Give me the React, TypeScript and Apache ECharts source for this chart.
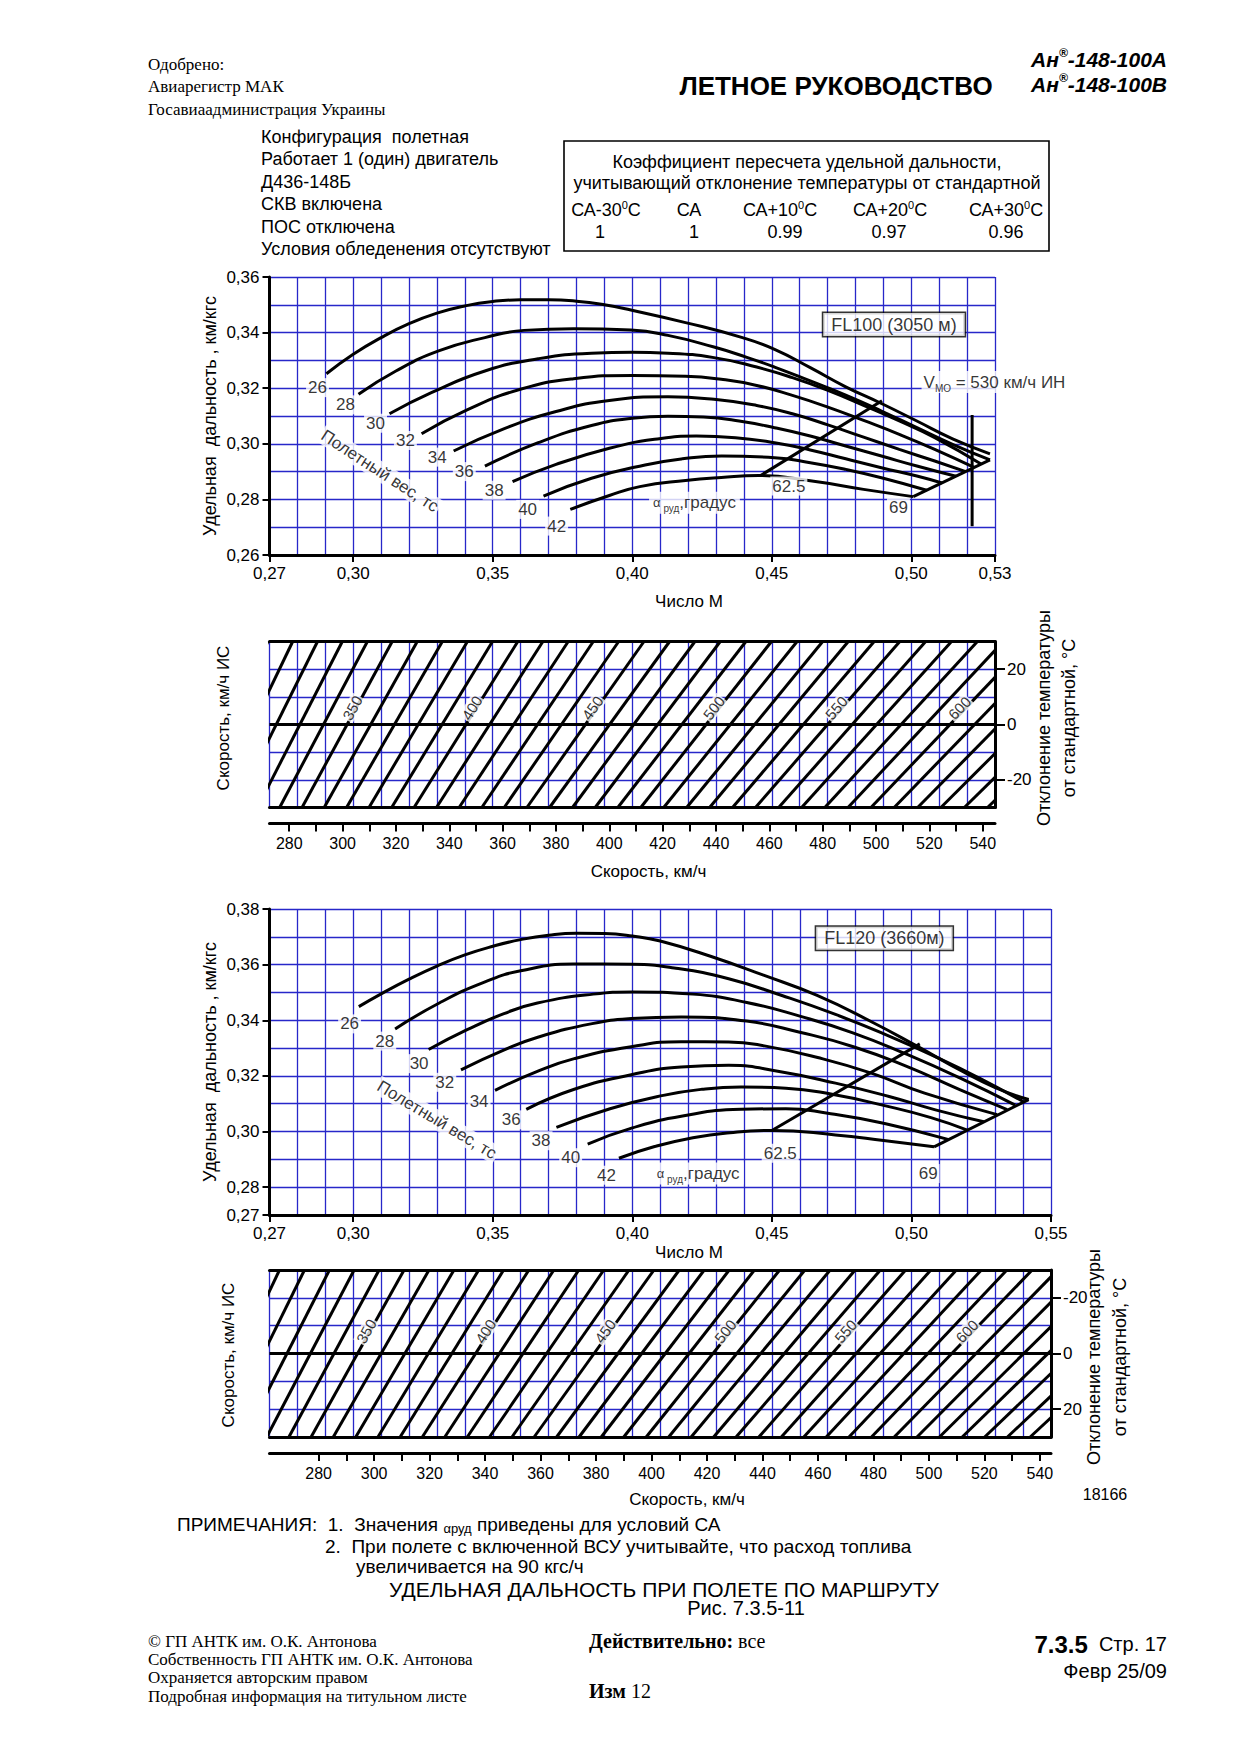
import React, { useEffect, useRef } from 'react';
import * as echarts from 'echarts';

const FONT = '"Liberation Sans", Arial, Helvetica, sans-serif';
const SERIF = '"Liberation Serif", "Times New Roman", serif';
const BLUE = '#2727c9';
const BLACK = '#000';

// ---------------- FL100 (3050 м): specific range vs Mach, by flight weight (t) ----------------
const weightNames = ['26', '28', '30', '32', '34', '36', '38', '40', '42'];

const fl100W26 = [[0.2904, 0.3252], [0.300, 0.3322], [0.310, 0.3382], [0.320, 0.3432], [0.330, 0.347], [0.340, 0.3496], [0.350, 0.3512], [0.360, 0.3518], [0.370, 0.3518], [0.380, 0.3513], [0.390, 0.350], [0.3995, 0.3481], [0.4191, 0.3436], [0.4395, 0.3382], [0.451, 0.334], [0.4638, 0.3274], [0.4765, 0.3205], [0.4893, 0.3145], [0.502, 0.3082], [0.5148, 0.3018], [0.5282, 0.2964]];
const fl100W28 = [[0.3019, 0.3178], [0.3153, 0.3262], [0.3306, 0.3334], [0.3472, 0.3382], [0.3612, 0.3408], [0.379, 0.3414], [0.3995, 0.3409], [0.4128, 0.3390], [0.4293, 0.3348], [0.4408, 0.3312], [0.451, 0.3276], [0.4638, 0.3226], [0.4765, 0.3175], [0.4893, 0.3118], [0.502, 0.3058], [0.5148, 0.2998], [0.5282, 0.2942]];
const fl100W30 = [[0.313, 0.3108], [0.328, 0.3184], [0.3472, 0.3262], [0.3663, 0.3306], [0.3854, 0.3326], [0.400, 0.3329], [0.4128, 0.3326], [0.4293, 0.331], [0.4446, 0.3276], [0.4574, 0.3238], [0.4701, 0.3192], [0.4829, 0.3138], [0.4957, 0.3082], [0.5084, 0.3022], [0.525, 0.2927]];
const fl100W32 = [[0.3245, 0.3036], [0.3408, 0.3122], [0.3599, 0.3196], [0.379, 0.3234], [0.400, 0.3246], [0.4191, 0.3243], [0.4319, 0.3232], [0.4446, 0.321], [0.4574, 0.3174], [0.4701, 0.3132], [0.4829, 0.3084], [0.4957, 0.3034], [0.5084, 0.298], [0.5225, 0.2915]];
const fl100W34 = [[0.336, 0.2974], [0.3535, 0.3052], [0.3727, 0.3116], [0.3918, 0.3156], [0.4128, 0.3169], [0.4293, 0.316], [0.4446, 0.3138], [0.4574, 0.3108], [0.4701, 0.3068], [0.4829, 0.3024], [0.4957, 0.298], [0.5084, 0.2938], [0.5195, 0.290]];
const fl100W36 = [[0.3472, 0.292], [0.3663, 0.3004], [0.3854, 0.3066], [0.400, 0.3092], [0.4128, 0.3099], [0.4255, 0.3096], [0.4383, 0.3082], [0.451, 0.3058], [0.4638, 0.3028], [0.4765, 0.2992], [0.4893, 0.2956], [0.502, 0.292], [0.516, 0.2883]];
const fl100W38 = [[0.3571, 0.2864], [0.3727, 0.2926], [0.3918, 0.2984], [0.4080, 0.3016], [0.423, 0.3028], [0.437, 0.3022], [0.451, 0.3004], [0.4638, 0.2978], [0.4765, 0.2946], [0.4893, 0.2914], [0.502, 0.2884], [0.511, 0.2859]];
const fl100W40 = [[0.3682, 0.2812], [0.3854, 0.2876], [0.4046, 0.2924], [0.418, 0.2946], [0.432, 0.2956], [0.451, 0.2950], [0.4638, 0.2932], [0.4765, 0.2908], [0.4893, 0.2878], [0.5055, 0.2833]];
const fl100W42 = [[0.3778, 0.2764], [0.3918, 0.2814], [0.4027, 0.2846], [0.4191, 0.2868], [0.4319, 0.2879], [0.4453, 0.2886], [0.4644, 0.2866], [0.4829, 0.2836], [0.5007, 0.281]];
const fl100Throttle625 = [[0.446, 0.2886], [0.4895, 0.3155]];
const fl100Throttle69 = [[0.5007, 0.281], [0.5282, 0.2942]];
const fl100Vmo = [[0.5218, 0.2703], [0.5218, 0.3104]];
const fl100WeightLabelM = [0.2872, 0.2972, 0.308, 0.3187, 0.3301, 0.3398, 0.3505, 0.3625, 0.3729];
const fl100WeightLabelSR = [0.3202, 0.314, 0.3074, 0.3012, 0.2952, 0.290, 0.2833, 0.2764, 0.2704];

// ---------------- FL120 (3660 м) ----------------
const fl120W26 = [[0.302, 0.3449], [0.310, 0.3495], [0.320, 0.3548], [0.330, 0.3595], [0.340, 0.3635], [0.350, 0.3666], [0.360, 0.369], [0.370, 0.3706], [0.380, 0.3713], [0.390, 0.3712], [0.400, 0.3703], [0.410, 0.3685], [0.428, 0.363], [0.447, 0.3562], [0.466, 0.349], [0.486, 0.3393], [0.502, 0.3307], [0.518, 0.3218], [0.530, 0.3158], [0.542, 0.3115]];
const fl120W28 = [[0.315, 0.3369], [0.331, 0.3463], [0.347, 0.3537], [0.360, 0.3578], [0.379, 0.3602], [0.400, 0.3601], [0.415, 0.3588], [0.4345, 0.3549], [0.4536, 0.3489], [0.4728, 0.3421], [0.492, 0.3343], [0.511, 0.3258], [0.524, 0.3194], [0.540, 0.3108]];
const fl120W30 = [[0.327, 0.3295], [0.341, 0.3367], [0.354, 0.3424], [0.366, 0.3462], [0.386, 0.3494], [0.400, 0.3502], [0.4217, 0.3494], [0.441, 0.3464], [0.460, 0.3415], [0.479, 0.3355], [0.498, 0.3279], [0.5175, 0.3192], [0.5372, 0.3095]];
const fl120W32 = [[0.3386, 0.3222], [0.3537, 0.3292], [0.3664, 0.3340], [0.3856, 0.3388], [0.3996, 0.3406], [0.4175, 0.3412], [0.4409, 0.3397], [0.460, 0.3357], [0.4792, 0.3305], [0.4983, 0.3234], [0.5175, 0.315], [0.5343, 0.3079]];
const fl120W34 = [[0.3508, 0.3148], [0.3664, 0.3218], [0.3792, 0.3262], [0.3996, 0.3305], [0.4175, 0.3323], [0.4345, 0.3322], [0.4473, 0.3308], [0.4664, 0.3266], [0.4856, 0.3210], [0.5047, 0.3138], [0.5307, 0.3061]];
const fl120W36 = [[0.362, 0.308], [0.3792, 0.3152], [0.3996, 0.3204], [0.4175, 0.3232], [0.4345, 0.3238], [0.4536, 0.3214], [0.4728, 0.3174], [0.492, 0.3126], [0.5086, 0.3078], [0.5259, 0.3035]];
const fl120W38 = [[0.3728, 0.3015], [0.392, 0.3082], [0.4111, 0.3130], [0.425, 0.3152], [0.439, 0.3160], [0.455, 0.3156], [0.472, 0.3133], [0.490, 0.3094], [0.507, 0.305], [0.520, 0.3005]];
const fl120W40 = [[0.384, 0.2955], [0.400, 0.3013], [0.418, 0.3056], [0.439, 0.3080], [0.455, 0.3082], [0.470, 0.3066], [0.490, 0.3030], [0.5134, 0.2971]];
const fl120W42 = [[0.3952, 0.2904], [0.408, 0.2946], [0.4217, 0.2978], [0.4350, 0.2996], [0.450, 0.3004], [0.4728, 0.2988], [0.490, 0.2968], [0.5081, 0.2945]];
const fl120Throttle625 = [[0.450, 0.3004], [0.503, 0.3315]];
const fl120Throttle69 = [[0.5081, 0.2945], [0.542, 0.3115]];
const fl120WeightLabelM = [0.2987, 0.3113, 0.3236, 0.3328, 0.3451, 0.3566, 0.3673, 0.3779, 0.3907];
const fl120WeightLabelSR = [0.3387, 0.3325, 0.3244, 0.3177, 0.3108, 0.3042, 0.2967, 0.2906, 0.2843];

// ---------------- axis tick values ----------------
const machTicksFL100 = [0.27, 0.30, 0.35, 0.40, 0.45, 0.50, 0.53];
const machTicksFL120 = [0.27, 0.30, 0.35, 0.40, 0.45, 0.50, 0.55];
const srTicksFL120 = [0.27, 0.28, 0.30, 0.32, 0.34, 0.36, 0.38];
const speedTicks = [280, 290, 300, 310, 320, 330, 340, 350, 360, 370, 380, 390, 400, 410, 420, 430, 440, 450, 460, 470, 480, 490, 500, 510, 520, 530, 540];
const speedLabels = [280, 300, 320, 340, 360, 380, 400, 420, 440, 460, 480, 500, 520, 540];
const tempTicks = [-20, 0, 20];

// ---------------- speed nomograms: isolines, crossing speed at the two edges ----------------
const nomo1Tas = [300, 310, 320, 330, 340, 350, 360, 370, 380, 390, 400, 410, 420, 430, 440, 450, 460, 470, 480, 490, 500, 510, 520, 530, 540, 550, 560, 570, 580, 590, 600, 610, 620, 630, 640, 650, 660];
const nomo1XBottom = [243.1, 251.4, 259.7, 268.1, 276.4, 284.8, 293.1, 301.5, 309.9, 318.4, 326.8, 335.2, 343.7, 352.2, 360.6, 369.1, 377.6, 386.2, 394.7, 403.2, 411.8, 420.4, 429.0, 437.6, 446.2, 454.8, 463.5, 472.1, 480.8, 489.5, 498.1, 506.8, 515.6, 524.3, 533.1, 541.8, 550.6];
const nomo1XTop = [272.0, 281.3, 290.6, 299.9, 309.3, 318.6, 328.0, 337.4, 346.8, 356.2, 365.7, 375.1, 384.6, 394.0, 403.5, 413.0, 422.6, 432.1, 441.6, 451.2, 460.8, 470.4, 480.0, 489.6, 499.3, 508.9, 518.6, 528.3, 538.0, 547.7, 557.4, 567.1, 576.9, 586.7, 596.5, 606.3, 616.1];
const nomo1LabelText = ['350', '400', '450', '500', '550', '600'];
const nomo1LabelX = [303.7, 348.5, 393.7, 439.2, 485.1, 531.3];
const nomo1LabelT = [6, 6, 6, 6, 6, 6];
const nomo1LabelAngle = [61.5, 58.0, 54.8, 51.7, 49.0, 46.3];

const nomo2Tas = [300, 310, 320, 330, 340, 350, 360, 370, 380, 390, 400, 410, 420, 430, 440, 450, 460, 470, 480, 490, 500, 510, 520, 530, 540, 550, 560, 570, 580, 590, 600, 610, 620, 630, 640, 650, 660, 670, 680, 690];
const nomo2XBottom = [237.3, 245.3, 253.3, 261.3, 269.3, 277.3, 285.3, 293.4, 301.4, 309.4, 317.4, 325.5, 333.6, 341.6, 349.7, 357.7, 365.8, 373.9, 381.9, 390.0, 398.1, 406.2, 414.3, 422.4, 430.5, 438.7, 446.8, 454.9, 463.0, 471.2, 479.3, 487.5, 495.7, 503.8, 512.0, 520.1, 528.3, 536.5, 544.7, 552.9];
const nomo2XTop = [265.9, 274.9, 283.9, 292.8, 301.8, 310.8, 319.8, 328.8, 337.7, 346.7, 355.8, 364.8, 373.8, 382.8, 391.9, 400.9, 410.0, 419.0, 428.0, 437.1, 446.2, 455.3, 464.4, 473.4, 482.5, 491.6, 500.7, 509.9, 518.9, 528.1, 537.2, 546.4, 555.5, 564.6, 573.8, 582.9, 592.2, 601.3, 610.4, 619.6];
const nomo2LabelText = ['350', '400', '450', '500', '550', '600'];
const nomo2LabelX = [297.2, 340.2, 383.3, 426.6, 470.0, 513.7];
const nomo2LabelT = [-8, -8, -8, -8, -8, -8];
const nomo2LabelAngle = [60.9, 57.4, 54.3, 51.4, 48.7, 46.1];

// ---------------- text blocks ----------------
const configLines = ['Конфигурация  полетная', 'Работает 1 (один) двигатель', 'Д436-148Б', 'СКВ включена', 'ПОС отключена', 'Условия обледенения отсутствуют'];
const corrHeaders = ['СА-30', 'СА', 'СА+10', 'СА+20', 'СА+30'];
const corrValues = ['1', '1', '0.99', '0.97', '0.96'];

const commaFmt = (v: number) => v.toFixed(2).replace('.', ',');

function gridAxis(gridIndex: number, min: number, max: number, interval: number, position: string, extra: any = {}) {
  return {
    type: 'value', gridIndex, min, max, interval, position,
    axisLine: { show: false, onZero: false }, axisTick: { show: false }, axisLabel: { show: false },
    splitLine: { show: true, lineStyle: { color: BLUE, width: 1.3 } },
    ...extra,
  };
}

function borderAxis(gridIndex: number, position: string) {
  return {
    type: 'value', gridIndex, min: 0, max: 1, position, offset: 0,
    axisLine: { show: true, onZero: false, lineStyle: { color: BLACK, width: 3 } },
    axisTick: { show: false }, axisLabel: { show: false }, splitLine: { show: false },
  };
}

function labelAxisX(gridIndex: number, min: number, max: number, ticks: number[]) {
  return {
    type: 'value', gridIndex, min, max, position: 'bottom',
    axisLine: { show: true, onZero: false, lineStyle: { color: BLACK, width: 3 } },
    axisTick: { show: true, customValues: ticks, length: 7, lineStyle: { color: BLACK, width: 2 } },
    axisLabel: { show: true, customValues: ticks, formatter: commaFmt, fontSize: 17, color: BLACK, fontFamily: FONT, margin: 10 },
    splitLine: { show: false },
  };
}

function speedAxis(gridIndex: number, min: number, max: number) {
  return {
    type: 'value', gridIndex, min, max, position: 'bottom', offset: 16,
    axisLine: { show: true, onZero: false, lineStyle: { color: BLACK, width: 3 } },
    axisTick: { show: true, customValues: speedTicks, length: 8, lineStyle: { color: BLACK, width: 2 } },
    axisLabel: { show: true, customValues: speedLabels, fontSize: 16, color: BLACK, fontFamily: FONT, margin: 12 },
    splitLine: { show: false },
  };
}

function tempAxisRight(gridIndex: number, inverse: boolean) {
  return {
    type: 'value', gridIndex, min: -30, max: 30, position: 'right', inverse,
    axisLine: { show: true, onZero: false, lineStyle: { color: BLACK, width: 3 } },
    axisTick: { show: true, customValues: tempTicks, length: 10, lineStyle: { color: BLACK, width: 2 } },
    axisLabel: { show: true, customValues: tempTicks, fontSize: 17, color: BLACK, fontFamily: FONT, margin: 12 },
    splitLine: { show: false },
  };
}

function curve(data: number[][], xi: number, yi: number) {
  return {
    type: 'line', xAxisIndex: xi, yAxisIndex: yi, data, smooth: 0.5,
    symbol: 'none', showSymbol: false, silent: true, z: 3,
    lineStyle: { color: BLACK, width: 3 },
  };
}

function straight(data: number[][], xi: number, yi: number, width = 3) {
  return {
    type: 'line', xAxisIndex: xi, yAxisIndex: yi, data, smooth: false,
    symbol: 'none', showSymbol: false, silent: true, z: 3,
    lineStyle: { color: BLACK, width },
  };
}

const subRich = {
  n: { fontSize: 17, fontFamily: FONT, color: BLACK, lineHeight: 22 },
  a: { fontSize: 13, fontFamily: FONT, color: BLACK, lineHeight: 22 },
  s: { fontSize: 10, fontFamily: FONT, color: BLACK, lineHeight: 10, verticalAlign: 'bottom' },
};

function labelSeries(items: any[], xi: number, yi: number) {
  return {
    type: 'scatter', xAxisIndex: xi, yAxisIndex: yi, symbolSize: 1, silent: true, z: 10,
    itemStyle: { color: 'rgba(0,0,0,0)' },
    label: {
      show: true, position: 'inside', formatter: '{b}', color: BLACK, fontSize: 17, fontFamily: FONT,
      backgroundColor: '#fff', padding: [1, 2],
    },
    data: items,
  };
}

function chartLabels(weightM: number[], weightSR: number[], extra: any[]) {
  const w = weightNames.map((n, i) => ({ name: n, value: [weightM[i], weightSR[i]] }));
  return [...w, ...extra];
}

function nomoLabels(texts: string[], xs: number[], ts: number[], angles: number[]) {
  return texts.map((t, i) => ({
    name: t, value: [xs[i], ts[i]],
    label: { rotate: angles[i], fontSize: 15, padding: [0, 1] },
  }));
}

function buildOption() {
  const grids = [
    { left: 269.5, top: 277, width: 725.5, height: 278 },
    { left: 269.5, top: 641.5, width: 725.5, height: 166 },
    { left: 269.5, top: 909, width: 781.5, height: 306 },
    { left: 269.5, top: 1270, width: 781.5, height: 167 },
  ].map((g) => ({ ...g, containLabel: false, outerBoundsMode: 'none', show: false }));

  const xAxis = [
    gridAxis(0, 0.27, 0.53, 0.01, 'bottom'), // 0
    labelAxisX(0, 0.27, 0.53, machTicksFL100), // 1
    gridAxis(1, 0.27, 0.53, 0.01, 'top', { axisLine: { show: true, onZero: false, lineStyle: { color: BLACK, width: 3 } } }), // 2
    borderAxis(1, 'bottom'), // 3
    speedAxis(1, 272.6, 544.6), // 4
    gridAxis(2, 0.27, 0.55, 0.01, 'bottom'), // 5
    labelAxisX(2, 0.27, 0.55, machTicksFL120), // 6
    gridAxis(3, 0.27, 0.55, 0.01, 'top', { axisLine: { show: true, onZero: false, lineStyle: { color: BLACK, width: 3 } } }), // 7
    borderAxis(3, 'bottom'), // 8
    speedAxis(3, 262.3, 544.0), // 9
  ];

  const yAxis = [
    gridAxis(0, 0.26, 0.36, 0.01, 'left'), // 0
    {
      type: 'value', gridIndex: 0, min: 0.26, max: 0.36, interval: 0.02, position: 'left',
      axisLine: { show: true, onZero: false, lineStyle: { color: BLACK, width: 3 } },
      axisTick: { show: true, length: 7, lineStyle: { color: BLACK, width: 2 } },
      axisLabel: { formatter: commaFmt, fontSize: 17, color: BLACK, fontFamily: FONT, margin: 10 },
      splitLine: { show: false },
    }, // 1
    gridAxis(1, -30, 30, 10, 'left'), // 2
    tempAxisRight(1, false), // 3
    gridAxis(2, 0.27, 0.38, 0.01, 'left'), // 4
    {
      type: 'value', gridIndex: 2, min: 0.27, max: 0.38, position: 'left',
      axisLine: { show: true, onZero: false, lineStyle: { color: BLACK, width: 3 } },
      axisTick: { show: true, customValues: srTicksFL120, length: 7, lineStyle: { color: BLACK, width: 2 } },
      axisLabel: { customValues: srTicksFL120, formatter: commaFmt, fontSize: 17, color: BLACK, fontFamily: FONT, margin: 10 },
      splitLine: { show: false },
    }, // 5
    gridAxis(3, -30, 30, 10, 'left', { inverse: true }), // 6
    tempAxisRight(3, true), // 7
  ];

  const series: any[] = [];

  // FL100
  [fl100W26, fl100W28, fl100W30, fl100W32, fl100W34, fl100W36, fl100W38, fl100W40, fl100W42].forEach((d) => series.push(curve(d, 1, 1)));
  series.push(straight(fl100Throttle625, 1, 1));
  series.push(straight(fl100Throttle69, 1, 1));
  series.push(straight(fl100Vmo, 1, 1, 3));
  series.push(labelSeries(chartLabels(fl100WeightLabelM, fl100WeightLabelSR, [
    { name: 'Полетный вес, тс', value: [0.3095, 0.2902], label: { rotate: -33 } },
    { name: 'a', value: [0.4223, 0.2788], label: { formatter: '{a|α}{s| руд}{n|,градус}', rich: subRich, padding: [0, 4] } },
    { name: '62.5', value: [0.4561, 0.2848] },
    { name: '69', value: [0.4954, 0.2770] },
    { name: 'FL100 (3050 м)', value: [0.4938, 0.3429], label: { fontSize: 18, borderColor: BLACK, borderWidth: 1.5, padding: [3, 8, 2, 8] } },
    { name: 'v', value: [0.5035, 0.3222], label: { position: 'right', distance: 0, formatter: '{n|V}{s|MO}{n| = 530 км/ч ИН}', rich: subRich, padding: [0, 2] } },
  ]), 1, 1));

  // FL100 nomogram
  nomo1Tas.forEach((_, i) => {
    const s: any = straight([[nomo1XBottom[i], -30], [nomo1XTop[i], 30]], 4, 2, 3);
    if (i === 0) {
      s.markLine = { silent: true, symbol: ['none', 'none'], label: { show: false }, lineStyle: { color: BLACK, width: 3, type: 'solid' }, data: [{ yAxis: 0 }] };
    }
    series.push(s);
  });
  series.push(labelSeries(nomoLabels(nomo1LabelText, nomo1LabelX, nomo1LabelT, nomo1LabelAngle), 4, 2));

  // FL120
  [fl120W26, fl120W28, fl120W30, fl120W32, fl120W34, fl120W36, fl120W38, fl120W40, fl120W42].forEach((d) => series.push(curve(d, 6, 5)));
  series.push(straight(fl120Throttle625, 6, 5));
  series.push(straight(fl120Throttle69, 6, 5));
  series.push(labelSeries(chartLabels(fl120WeightLabelM, fl120WeightLabelSR, [
    { name: 'Полетный вес, тс', value: [0.330, 0.3042], label: { rotate: -31 } },
    { name: 'a', value: [0.4236, 0.2849], label: { formatter: '{a|α}{s| руд}{n|,градус}', rich: subRich, padding: [0, 4] } },
    { name: '62.5', value: [0.453, 0.2922] },
    { name: '69', value: [0.506, 0.2849] },
    { name: 'FL120 (3660м)', value: [0.4903, 0.3695], label: { fontSize: 18, borderColor: BLACK, borderWidth: 1.5, padding: [3, 8, 2, 8] } },
  ]), 6, 5));

  // FL120 nomogram
  nomo2Tas.forEach((_, i) => {
    const s: any = straight([[nomo2XBottom[i], 30], [nomo2XTop[i], -30]], 9, 6, 3);
    if (i === 0) {
      s.markLine = { silent: true, symbol: ['none', 'none'], label: { show: false }, lineStyle: { color: BLACK, width: 3, type: 'solid' }, data: [{ yAxis: 0 }] };
    }
    series.push(s);
  });
  series.push(labelSeries(nomoLabels(nomo2LabelText, nomo2LabelX, nomo2LabelT, nomo2LabelAngle), 9, 6));

  // ---------------- graphic texts ----------------
  const T = (x: number, y: number, text: string, o: any = {}) => ({
    type: 'text', x, y, rotation: o.rotation || 0, silent: true, z: 20,
    style: {
      text, fill: BLACK, fontSize: o.size || 17, fontFamily: o.family || FONT,
      fontWeight: o.weight || 'normal', fontStyle: o.italic ? 'italic' : 'normal',
      align: o.align || 'left', verticalAlign: 'middle', rich: o.rich,
    },
  });
  const R90 = Math.PI / 2;
  const graphic: any[] = [];
  // header
  graphic.push(T(148, 64, 'Одобрено:', { family: SERIF, size: 17 }));
  graphic.push(T(148, 86, 'Авиарегистр МАК', { family: SERIF, size: 17 }));
  graphic.push(T(148, 109, 'Госавиаадминистрация Украины', { family: SERIF, size: 17 }));
  graphic.push(T(836, 86, 'ЛЕТНОЕ РУКОВОДСТВО', { size: 26, weight: 'bold', align: 'center' }));
  const modelRich = {
    b: { fontSize: 21, fontWeight: 'bold', fontStyle: 'italic', fontFamily: FONT, color: BLACK, lineHeight: 24 },
    r: { fontSize: 12, fontWeight: 'bold', fontStyle: 'italic', fontFamily: FONT, color: BLACK, lineHeight: 12, verticalAlign: 'top' },
  };
  graphic.push(T(1167, 59, '{b|Ан}{r|®}{b|-148-100А}', { align: 'right', rich: modelRich }));
  graphic.push(T(1167, 84, '{b|Ан}{r|®}{b|-148-100В}', { align: 'right', rich: modelRich }));
  const cfgY = [137, 159, 182, 204, 227, 249];
  configLines.forEach((l, i) => graphic.push(T(261, cfgY[i], l, { size: 18 })));
  graphic.push({ type: 'rect', shape: { x: 564, y: 141, width: 485, height: 110 }, style: { fill: 'none', stroke: BLACK, lineWidth: 1.6 }, silent: true, z: 20 });
  graphic.push(T(807, 161.5, 'Коэффициент пересчета удельной дальности,', { align: 'center', size: 18 }));
  graphic.push(T(807, 183, 'учитывающий отклонение температуры от стандартной', { align: 'center', size: 18 }));
  const supRich = {
    n: { fontSize: 18, fontFamily: FONT, color: BLACK, lineHeight: 22 },
    u: { fontSize: 11, fontFamily: FONT, color: BLACK, lineHeight: 11, verticalAlign: 'top' },
  };
  const colX = [606, 689, 780, 890, 1006];
  corrHeaders.forEach((h, i) => {
    const txt = h === 'СА' ? '{n|СА}' : `{n|${h}}{u|0}{n|С}`;
    graphic.push(T(colX[i], 210, txt, { align: 'center', rich: supRich }));
  });
  const valX = [600, 694, 785, 889, 1006];
  corrValues.forEach((v, i) => graphic.push(T(valX[i], 232, v, { align: 'center', size: 18 })));

  // chart titles
  graphic.push(T(210, 416, 'Удельная  дальность , км/кгс', { rotation: R90, align: 'center', size: 18 }));
  graphic.push(T(210, 1062, 'Удельная  дальность , км/кгс', { rotation: R90, align: 'center', size: 18 }));
  graphic.push(T(689, 601, 'Число М', { align: 'center' }));
  graphic.push(T(689, 1252, 'Число М', { align: 'center' }));
  graphic.push(T(223, 718, 'Скорость, км/ч ИС', { rotation: R90, align: 'center' }));
  graphic.push(T(228, 1355, 'Скорость, км/ч ИС', { rotation: R90, align: 'center' }));
  graphic.push(T(1043.5, 718, 'Отклонение температуры', { rotation: R90, align: 'center', size: 18 }));
  graphic.push(T(1069, 718, 'от стандартной, °С', { rotation: R90, align: 'center', size: 18 }));
  graphic.push(T(1094, 1357, 'Отклонение температуры', { rotation: R90, align: 'center', size: 18 }));
  graphic.push(T(1120, 1357, 'от стандартной, °С', { rotation: R90, align: 'center', size: 18 }));
  graphic.push(T(648.5, 871, 'Скорость, км/ч', { align: 'center' }));
  graphic.push(T(687, 1499, 'Скорость, км/ч', { align: 'center' }));
  graphic.push(T(1105, 1494, '18166', { align: 'center', size: 16 }));

  // notes
  graphic.push(T(177, 1524, '{n|ПРИМЕЧАНИЯ:  1.  Значения }{a|αруд}{n| приведены для условий СА}', {
    rich: { n: { fontSize: 19, fontFamily: FONT, color: BLACK, lineHeight: 22 }, a: { fontSize: 13, fontFamily: FONT, color: BLACK, lineHeight: 15, verticalAlign: 'bottom' } },
  }));
  graphic.push(T(325, 1546, '2.  При полете с включенной ВСУ учитывайте, что расход топлива', { size: 19 }));
  graphic.push(T(356, 1566, 'увеличивается на 90 кгс/ч', { size: 19 }));
  graphic.push(T(664, 1589, 'УДЕЛЬНАЯ ДАЛЬНОСТЬ ПРИ ПОЛЕТЕ ПО МАРШРУТУ', { align: 'center', size: 21 }));
  graphic.push(T(746, 1608, 'Рис. 7.3.5-11', { align: 'center', size: 20 }));

  // footer
  graphic.push(T(148, 1641, '© ГП АНТК им. О.К. Антонова', { family: SERIF, size: 17 }));
  graphic.push(T(148, 1659, 'Собственность ГП АНТК им. О.К. Антонова', { family: SERIF, size: 17 }));
  graphic.push(T(148, 1677, 'Охраняется авторским правом', { family: SERIF, size: 17 }));
  graphic.push(T(148, 1696, 'Подробная информация на титульном листе', { family: SERIF, size: 17 }));
  const serifRich = {
    b: { fontSize: 20, fontFamily: SERIF, fontWeight: 'bold', color: BLACK },
    n: { fontSize: 20, fontFamily: SERIF, color: BLACK },
  };
  graphic.push(T(589, 1641, '{b|Действительно:}{n| все}', { rich: serifRich }));
  graphic.push(T(589, 1691, '{b|Изм}{n| 12}', { rich: serifRich }));
  graphic.push(T(1167, 1644, '{b|7.3.5}{n|  Стр. 17}', {
    align: 'right',
    rich: { b: { fontSize: 24, fontWeight: 'bold', fontFamily: FONT, color: BLACK }, n: { fontSize: 20, fontFamily: FONT, color: BLACK } },
  }));
  graphic.push(T(1167, 1671, 'Февр 25/09', { align: 'right', size: 20 }));

  return {
    animation: false,
    backgroundColor: '#fff',
    textStyle: { fontFamily: FONT, color: BLACK },
    grid: grids,
    xAxis,
    yAxis,
    series,
    graphic,
  };
}

export default function App() {
  const ref = useRef<HTMLDivElement>(null);
  useEffect(() => {
    document.body.style.margin = '0';
    const chart = echarts.init(ref.current!, undefined, { renderer: 'svg' });
    chart.setOption(buildOption() as any);
    return () => chart.dispose();
  }, []);
  return <div ref={ref} style={{ width: 1240, height: 1755 }} />;
}
